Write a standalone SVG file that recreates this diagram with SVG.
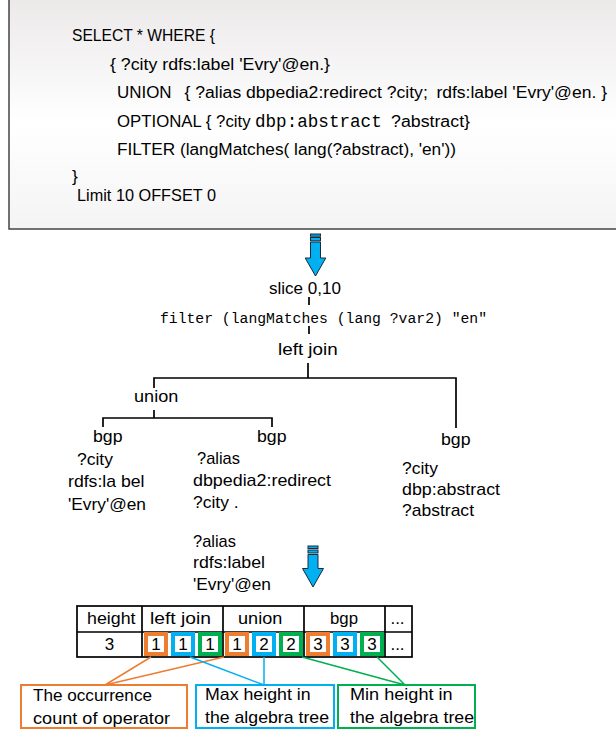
<svg xmlns="http://www.w3.org/2000/svg" width="616" height="731" viewBox="0 0 616 731">
<defs>
<linearGradient id="bg" x1="0" y1="0" x2="0" y2="1">
<stop offset="0" stop-color="#ebe8e8"/>
<stop offset="0.55" stop-color="#ffffff"/>
<stop offset="1" stop-color="#f5f4f4"/>
</linearGradient>
</defs>
<style>
text{font-family:"Liberation Sans",Arial,sans-serif;font-size:17px;fill:#000}
.q{font-size:17.3px}
.mono{font-family:"Liberation Mono","Courier New",monospace}
.tree{stroke:#000;stroke-width:1.7;fill:none}
.arrow{fill:#00b0f0;stroke:#1b2a3a;stroke-width:1}
.grid{stroke:#000;stroke-width:1.7;fill:none}
.o{stroke:#ed7d31}.b{stroke:#00b0f0}.g{stroke:#00b050}
.box{fill:#fff;stroke-width:4}
.lbl{fill:#fff;stroke-width:2}
.lnk{stroke-width:1.5;fill:none}
.c{text-anchor:middle}
</style>

<g id="query">
<rect x="9" y="-5" width="620" height="234" fill="url(#bg)" stroke="#444" stroke-width="1.5"/>
<text class="q" x="72" y="41" textLength="143" lengthAdjust="spacingAndGlyphs">SELECT * WHERE {</text>
<text class="q" x="110" y="70" textLength="220" lengthAdjust="spacingAndGlyphs">{ ?city rdfs:label 'Evry'@en.}</text>
<text class="q" x="117" y="98" textLength="54.6" lengthAdjust="spacingAndGlyphs">UNION</text>
<text class="q" x="184.5" y="98" textLength="243.3" lengthAdjust="spacingAndGlyphs">{ ?alias dbpedia2:redirect ?city;</text>
<text class="q" x="436.4" y="98" textLength="170.6" lengthAdjust="spacingAndGlyphs">rdfs:label 'Evry'@en. }</text>
<text class="q" x="117" y="127" textLength="133.6" lengthAdjust="spacingAndGlyphs">OPTIONAL { ?city</text>
<text class="mono" x="255" y="127" style="font-size:17.6px">dbp:abstract</text>
<text class="q" x="391" y="127" textLength="79" lengthAdjust="spacingAndGlyphs">?abstract}</text>
<text class="q" x="117" y="155" textLength="339" lengthAdjust="spacingAndGlyphs">FILTER (langMatches( lang(?abstract), 'en'))</text>
<text class="q" x="72" y="182">}</text>
<text class="q" x="77" y="201" textLength="139" lengthAdjust="spacingAndGlyphs">Limit 10 OFFSET 0</text>
</g>

<g id="arrow1" class="arrow">
<rect x="310.5" y="234" width="10" height="2.2"/>
<rect x="310.5" y="237.5" width="10" height="3.3"/>
<path d="M310.5 242H320.5V258H325.8L315.5 276L305.2 258H310.5Z"/>
</g>

<g id="node-slice"><text x="269" y="293.5" textLength="72" lengthAdjust="spacingAndGlyphs">slice 0,10</text></g>
<g id="node-filter"><text class="mono" x="160" y="322.5" style="font-size:14.7px" textLength="327" lengthAdjust="spacingAndGlyphs">filter (langMatches (lang ?var2) "en"</text></g>
<g id="node-leftjoin"><text x="278" y="354.5" textLength="59.7" lengthAdjust="spacingAndGlyphs">left join</text></g>
<g id="node-union"><text x="134" y="401.5" textLength="44.3" lengthAdjust="spacingAndGlyphs">union</text></g>
<g id="node-bgp1">
<text x="93" y="441.5" textLength="29.5" lengthAdjust="spacingAndGlyphs">bgp</text>
<text x="77" y="465" textLength="36" lengthAdjust="spacingAndGlyphs">?city</text>
<text x="68" y="487" textLength="76.5" lengthAdjust="spacingAndGlyphs">rdfs:la bel</text>
<text x="68" y="510" textLength="78" lengthAdjust="spacingAndGlyphs">'Evry'@en</text>
</g>
<g id="node-bgp2">
<text x="257" y="441.5" textLength="29.5" lengthAdjust="spacingAndGlyphs">bgp</text>
<text x="197" y="464" textLength="43" lengthAdjust="spacingAndGlyphs">?alias</text>
<text x="193" y="486" textLength="138" lengthAdjust="spacingAndGlyphs">dbpedia2:redirect</text>
<text x="193" y="508" textLength="45.6" lengthAdjust="spacingAndGlyphs">?city .</text>
<text x="193" y="547" textLength="43" lengthAdjust="spacingAndGlyphs">?alias</text>
<text x="193" y="568" textLength="72" lengthAdjust="spacingAndGlyphs">rdfs:label</text>
<text x="193" y="590" textLength="78" lengthAdjust="spacingAndGlyphs">'Evry'@en</text>
</g>
<g id="node-bgp3">
<text x="441" y="444.5" textLength="29.5" lengthAdjust="spacingAndGlyphs">bgp</text>
<text x="402" y="474" textLength="36" lengthAdjust="spacingAndGlyphs">?city</text>
<text x="402" y="495" textLength="98" lengthAdjust="spacingAndGlyphs">dbp:abstract</text>
<text x="402" y="516" textLength="72" lengthAdjust="spacingAndGlyphs">?abstract</text>
</g>

<g id="arrow2" class="arrow">
<rect x="308" y="546" width="10" height="2.5"/>
<rect x="308" y="550" width="10" height="3"/>
<path d="M308 554.5H318V568.5H323.5L313 587L302.5 568.5H308Z"/>
</g>

<g id="table">
<rect class="grid" x="77" y="606" width="335" height="51"/>
<path class="grid" d="M77 632H412M142 606V657M223 606V657M304 606V657M385 606V657"/>
<text x="87" y="623.5" textLength="48.5" lengthAdjust="spacingAndGlyphs">height</text>
<text x="150" y="623.5" textLength="61" lengthAdjust="spacingAndGlyphs">left join</text>
<text x="238" y="623.5" textLength="44.3" lengthAdjust="spacingAndGlyphs">union</text>
<text x="330" y="623.5" textLength="28" lengthAdjust="spacingAndGlyphs">bgp</text>
<text class="c" x="397.5" y="624">...</text>
<text class="c" x="109.5" y="650">3</text>
<rect class="box o" x="146" y="634" width="20" height="20"/>
<rect class="box b" x="173" y="634" width="20" height="20"/>
<rect class="box g" x="200" y="634" width="20" height="20"/>
<rect class="box o" x="227" y="634" width="20" height="20"/>
<rect class="box b" x="254" y="634" width="20" height="20"/>
<rect class="box g" x="281" y="634" width="20" height="20"/>
<rect class="box o" x="308" y="634" width="20" height="20"/>
<rect class="box b" x="335" y="634" width="20" height="20"/>
<rect class="box g" x="362" y="634" width="20" height="20"/>
<text class="c" x="156" y="650">1</text>
<text class="c" x="183" y="650">1</text>
<text class="c" x="210" y="650">1</text>
<text class="c" x="237" y="650">1</text>
<text class="c" x="264" y="650">2</text>
<text class="c" x="291" y="650">2</text>
<text class="c" x="318" y="650">3</text>
<text class="c" x="345" y="650">3</text>
<text class="c" x="372" y="650">3</text>
<text class="c" x="397.5" y="650">...</text>
</g>

<g id="label-occurrence">
<rect class="lbl o" x="21" y="685" width="166" height="43"/>
<text x="33" y="700.5" textLength="119" lengthAdjust="spacingAndGlyphs">The occurrence</text>
<text x="33" y="723.5" textLength="137" lengthAdjust="spacingAndGlyphs">count of operator</text>
</g>
<g id="label-max">
<rect class="lbl b" x="196" y="685" width="138" height="43"/>
<text x="205" y="699.5" textLength="105.6" lengthAdjust="spacingAndGlyphs">Max height in</text>
<text x="205" y="722.5" textLength="124" lengthAdjust="spacingAndGlyphs">the algebra tree</text>
</g>
<g id="label-min">
<rect class="lbl g" x="338" y="685" width="137" height="43"/>
<text x="350" y="699.5" textLength="102.6" lengthAdjust="spacingAndGlyphs">Min height in</text>
<text x="350" y="722.5" textLength="124" lengthAdjust="spacingAndGlyphs">the algebra tree</text>
</g>

<g id="connectors">
<path class="tree" d="M309 297V305M309 326V334"/>
<path class="tree" d="M308 363V378M154 388V378H456V428"/>
<path class="tree" d="M154 410V418M103 427V418H272V427"/>
<path class="lnk o" d="M151 657L105 685L224 657"/>
<path class="lnk b" d="M190 657L264 685V657"/>
<path class="lnk g" d="M302 657L405 685L377 657"/>
</g>
</svg>
